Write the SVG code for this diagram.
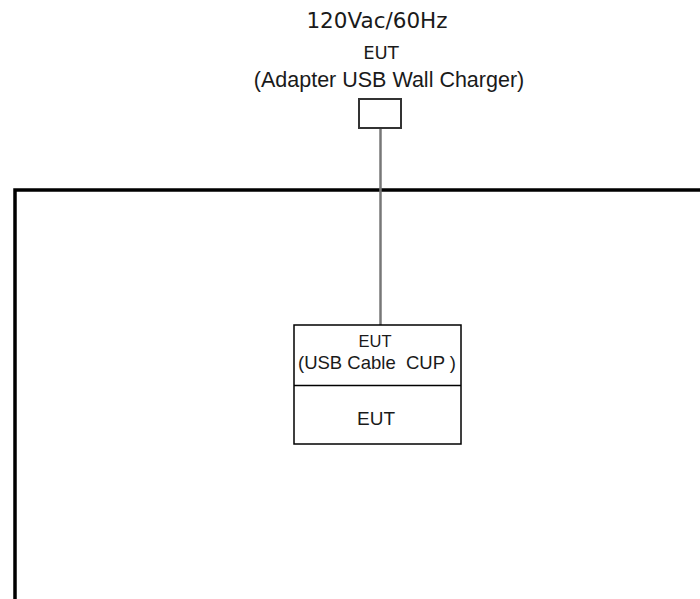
<svg xmlns="http://www.w3.org/2000/svg" width="700" height="599" viewBox="0 0 700 599">
<style>
.t{font-family:"Liberation Sans",Arial,sans-serif;fill:#1a1a1a;text-anchor:middle}
.d{font-family:"DejaVu Sans",Verdana,sans-serif;fill:#1a1a1a;text-anchor:middle}
.box{fill:#fff;stroke:#000;stroke-width:1.5}
</style>
<rect width="700" height="599" fill="#fff"/>
<g id="enclosure">
<path d="M15,605 L15,190 L710,190" fill="none" stroke="#000" stroke-width="3.5"/>
</g>
<g id="connectors">
<line x1="380.5" y1="128" x2="380.5" y2="325" stroke="#777" stroke-width="2.5"/>
</g>
<g id="adapter">
<text class="d" x="377" y="27.5" font-size="21.5">120Vac/60Hz</text>
<text class="d" x="381" y="59" font-size="18">EUT</text>
<text class="t" x="389" y="87" font-size="21.5">(Adapter USB Wall Charger)</text>
<rect x="359" y="99" width="42" height="29" fill="#fff" stroke="#333" stroke-width="2"/>
</g>
<g id="eut">
<rect class="box" x="294" y="325" width="167" height="119"/>
<line x1="294" y1="385.5" x2="461" y2="385.5" stroke="#000" stroke-width="1.5"/>
<text class="t" x="375" y="347" font-size="16.5">EUT</text>
<text class="t" x="377" y="368.5" font-size="18.5" style="white-space:pre">(USB Cable  CUP )</text>
<text class="t" x="376" y="425" font-size="19">EUT</text>
</g>
</svg>
